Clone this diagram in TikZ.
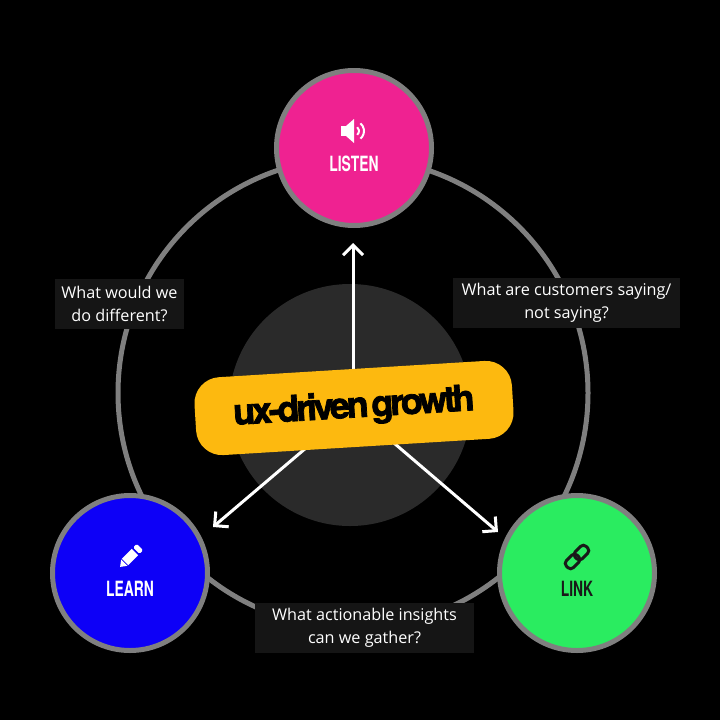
\documentclass[tikz,border=0pt]{standalone}
\usepackage{fontspec}
\usetikzlibrary{arrows.meta}
\setmainfont{Open Sans}
\newfontfamily\stagefont[FakeStretch=0.66]{TeX Gyre Heros}
\newfontfamily\corefont[LetterSpace=-9, FakeBold=2, WordSpace=0.4]{TeX Gyre Heros}

\definecolor{listenpink}{HTML}{EF2291}
\definecolor{learnblue}{HTML}{0D00F7}
\definecolor{linkgreen}{HTML}{2AEC60}
\definecolor{coreyellow}{HTML}{FDB90F}
\definecolor{ringgray}{HTML}{7F7F7F}
\definecolor{hubgray}{HTML}{2A2A2A}
\definecolor{notegray}{HTML}{151515}

\tikzset{
  stage/.style={circle, draw=ringgray, line width=5pt, minimum size=155pt, inner sep=0pt},
  stagelabel/.style={font=\stagefont\bfseries\fontsize{21}{21}\selectfont, inner sep=0pt},
  note/.style={fill=notegray, text=white, align=center, inner sep=0pt, minimum height=50pt,
    font=\fontsize{16.2}{23}\selectfont},
  flow/.style={draw=white, line width=3pt, -{Straight Barb[length=10pt,width=20pt]}},
  core/.style={fill=coreyellow, rounded corners=26pt, minimum width=318pt, minimum height=78pt,
    font=\corefont\bfseries\fontsize{36}{36}\selectfont, rotate=3.5},
}

\begin{document}
\begin{tikzpicture}[x=1pt, y=-1pt]
\useasboundingbox (0,0) rectangle (720,720);
\fill[black] (0,0) rectangle (720,720);

\draw[ringgray, line width=5pt] (353,393) circle (235pt); %%Ring
\fill[hubgray] (350,405) circle (121pt); %%Hub

\coordinate (hub) at (353,408);
\coordinate (uptip) at (353,243);
\coordinate (lefttip) at (213,527);
\coordinate (righttip) at (498,532);
\draw[flow] (hub) -- (uptip); %%Top
\draw[flow] (hub) -- (lefttip); %%BottomLeft
\draw[flow] (hub) -- (righttip); %%BottomRight

\node[core] (growth) at (354,408) {ux-driven growth};

\node[note, minimum width=129pt] (differ) at (119.5,304) {What would we\\do different?};
\node[note, minimum width=227pt] (saying) at (566.5,303) {What are customers saying/\\not saying?};
\node[note, minimum width=219pt] (gather) at (364.5,628) {What actionable insights\\can we gather?};

\node[stage, fill=listenpink] (listen) at (354,148) {};
\node[stage, fill=learnblue] (learn) at (130,573) {};
\node[stage, fill=linkgreen] (link) at (577,573) {};

\node[stagelabel, white] (listentext) at (354,164) {LISTEN};
\node[stagelabel, white] (learntext) at (130,589) {LEARN};
\node[stagelabel, black!90] (linktext) at (577,589) {LINK};

%% speaker
\fill[white] (341,126) rectangle (346,136);
\fill[white] (346,126) -- (354,119) -- (354,143) -- (346,136) -- cycle;
\draw[white, line width=2pt] (354,131) ++(-50:5pt) arc (-50:50:5pt);
\draw[white, line width=2pt] (354,131) ++(-50:10pt) arc (-50:50:10pt);

%% pencil
\begin{scope}[shift={(130,557)}, rotate=45]
\fill[white] (-14,0) -- (-8,-4.5) -- (-8,4.5) -- cycle;
\fill[white] (-7,-4.5) rectangle (7,4.5);
\fill[white, rounded corners=1.5pt] (9,-4.5) rectangle (14,4.5);
\end{scope}

%% chain
\begin{scope}[shift={(577,557)}, rotate=45]
\draw[black!90, line width=3pt, rounded corners=4pt] (-14,-5) rectangle (1.5,5);
\draw[black!90, line width=3pt, rounded corners=4pt] (-1.5,-5) rectangle (14,5);
\end{scope}
\end{tikzpicture}
\end{document}
